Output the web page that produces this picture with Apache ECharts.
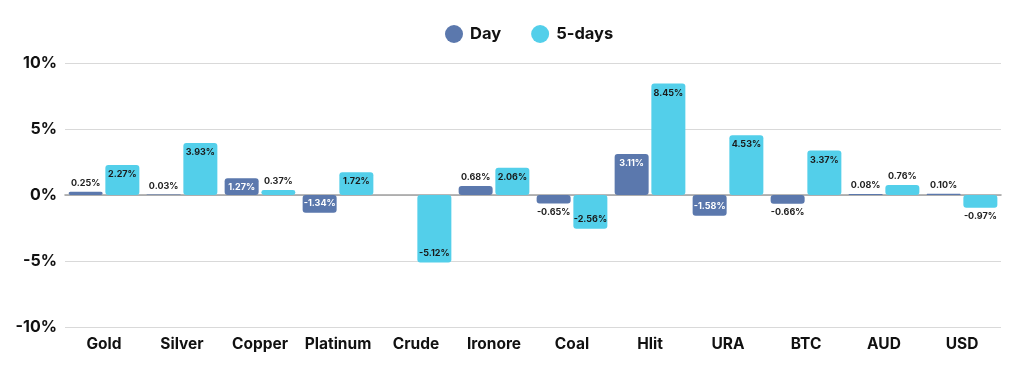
<!DOCTYPE html>
<html><head><meta charset="utf-8">
<script src="https://cdn.jsdelivr.net/npm/echarts@6/dist/echarts.min.js"></script>
<style>html,body{margin:0;padding:0;background:#fff}#c{width:1024px;height:369px}</style>
</head><body><div id="c"></div>
<script>
const categories = ['Gold','Silver','Copper','Platinum','Crude','Ironore','Coal','Hlit','URA','BTC','AUD','USD'];
const dayValues = [0.25, 0.03, 1.27, -1.34, null, 0.68, -0.65, 3.11, -1.58, -0.66, 0.08, 0.10];
const fiveDayValues = [2.27, 3.93, 0.37, 1.72, -5.12, 2.06, -2.56, 8.45, 4.53, 3.37, 0.76, -0.97];
const yTicks = [-10, -5, 0, 5, 10];
const seriesNames = ['Day', '5-days'];
const colors = ['#5b78ad', '#53cfea'];
const FONT = 'Inter, "DejaVu Sans", sans-serif';

function items(vals, insideColor) {
  return vals.map(v => {
    if (v === null) return { value: null, label: { show: false } };
    const inside = Math.abs(v) >= 1;
    let pos;
    if (inside) pos = v >= 0 ? 'insideTop' : 'insideBottom';
    else pos = v >= 0 ? 'top' : 'bottom';
    return {
      value: v,
      label: {
        position: pos,
        color: inside ? insideColor : '#222',
        distance: inside ? 5 : 4
      }
    };
  });
}

const chart = echarts.init(document.getElementById('c'), null, { renderer: 'canvas' });
chart.setOption({
  animation: false,
  color: colors,
  legend: {
    top: 20,
    left: 440,
    icon: 'circle',
    itemWidth: 18,
    itemHeight: 18,
    itemGap: 30,
    textStyle: { fontFamily: FONT, fontWeight: 700, fontSize: 16.5, color: '#111', padding: [0, 0, 0, 2] },
    data: seriesNames
  },
  grid: { left: 65, right: 23, top: 63, bottom: 42 },
  xAxis: {
    type: 'category',
    data: categories,
    axisLine: { show: true, onZero: true, lineStyle: { color: '#a0a0a0', width: 1.6 } },
    axisTick: { show: false },
    axisLabel: { interval: 0, margin: 9, fontFamily: FONT, fontWeight: 700, fontSize: 15.5, color: '#111' }
  },
  yAxis: {
    type: 'value',
    min: yTicks[0],
    max: yTicks[yTicks.length - 1],
    interval: 5,
    axisLine: { show: false },
    axisTick: { show: false },
    splitLine: { lineStyle: { color: '#d9d9d9', width: 1.2 } },
    axisLabel: { margin: 8, fontFamily: FONT, fontWeight: 700, fontSize: 16, color: '#111', formatter: v => v + '%' }
  },
  series: [
    {
      name: seriesNames[0],
      type: 'bar',
      data: items(dayValues, '#ffffff'),
      barWidth: 34,
      barGap: '8%',
      itemStyle: { color: colors[0], borderRadius: 3 },
      label: { show: true, fontFamily: FONT, fontWeight: 700, fontSize: 9, formatter: p => p.value.toFixed(2) + '%' }
    },
    {
      name: seriesNames[1],
      type: 'bar',
      data: items(fiveDayValues, '#1a1a1a'),
      barWidth: 34,
      itemStyle: { color: colors[1], borderRadius: 3 },
      label: { show: true, fontFamily: FONT, fontWeight: 700, fontSize: 9, formatter: p => p.value.toFixed(2) + '%' }
    }
  ]
});
</script></body></html>
